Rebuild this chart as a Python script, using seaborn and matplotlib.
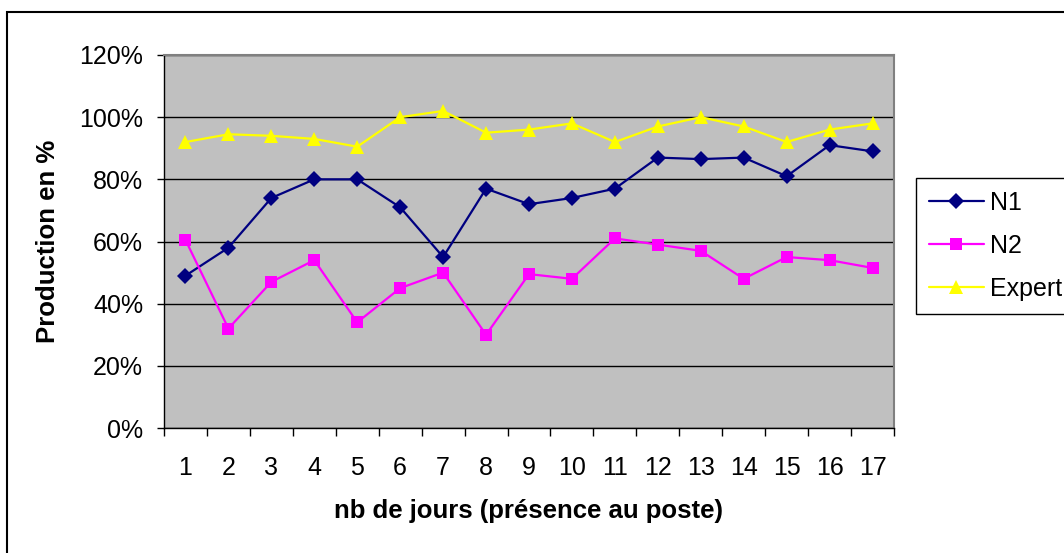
import pandas as pd
import numpy as np
import matplotlib
matplotlib.use("Agg")
import matplotlib.pyplot as plt
import seaborn as sns
from matplotlib.ticker import PercentFormatter, FixedLocator
from matplotlib.patches import Rectangle

# values (in %)
jours = list(range(1, 18))
n1 = [49, 58, 74, 80, 80, 71, 55, 77, 72, 74, 77, 87, 86.5, 87, 81, 91, 89]
n2 = [60.5, 32, 47, 54, 34, 45, 50, 30, 49.5, 48, 61, 59, 57, 48, 55, 54, 51.5]
expert = [92, 94.5, 94, 93, 90.5, 100, 102, 95, 96, 98, 92, 97, 100, 97, 92, 96, 98]
series = ["N1", "N2", "Expert"]

df = pd.DataFrame({
    "jour": jours * 3,
    "prod": n1 + n2 + expert,
    "serie": np.repeat(series, len(jours)),
})

sns.set_style("white")
plt.rcParams["font.family"] = ["Liberation Sans", "DejaVu Sans"]
plt.rcParams.update({"text.color": "black", "axes.labelcolor": "black",
                     "xtick.color": "black", "ytick.color": "black"})

fig = plt.figure(figsize=(10.64, 5.53), dpi=100)
ax = fig.add_axes([164 / 1064, 1 - 428 / 553, (894 - 164) / 1064, (428 - 55) / 553])

palette = {"N1": "#000080", "N2": "#FF00FF", "Expert": "#FFFF00"}
markers = {"N1": "D", "N2": "s", "Expert": "^"}
sns.lineplot(data=df, x="jour", y="prod", hue="serie", style="serie",
             palette=palette, markers=markers, dashes=False, legend=False,
             linewidth=1.6, markersize=9, markeredgewidth=0, ax=ax)
for line, s in zip(ax.lines, series):
    if s == "N1":
        line.set_markersize(8)
    elif s == "N2":
        line.set_markersize(9)
    else:
        line.set_markersize(10.5)

ax.set_facecolor("#C0C0C0")
ax.set_xlim(0.5, 17.5)
ax.set_ylim(0, 120)
ax.set_yticks(np.arange(0, 121, 20))
ax.yaxis.set_major_formatter(PercentFormatter(decimals=0))
ax.set_xticks(jours)
ax.xaxis.set_minor_locator(FixedLocator(np.arange(0.5, 18, 1)))
ax.grid(axis="y", color="black", linewidth=1)
ax.set_axisbelow(True)

ax.tick_params(axis="x", which="major", length=0, pad=20, labelsize=18)
ax.tick_params(axis="x", which="minor", length=6, width=1, color="black",
               direction="out", bottom=True)
ax.tick_params(axis="y", length=5, width=1, color="black", direction="out",
               pad=10, labelsize=18, left=True)

for side in ["left", "bottom"]:
    ax.spines[side].set_color("black")
    ax.spines[side].set_linewidth(1)
for side in ["top", "right"]:
    ax.spines[side].set_color("#808080")
    ax.spines[side].set_linewidth(1.5)

ax.set_xlabel("nb de jours (présence au poste)", fontsize=18.5, fontweight="bold",
              labelpad=14)
ax.set_ylabel("Production en %", fontsize=18.5, fontweight="bold", labelpad=14)

ax.legend(handles=ax.lines[:3], labels=series, loc="upper left",
          bbox_to_anchor=(916 / 1064, 1 - 178 / 553),
          bbox_transform=fig.transFigure, borderaxespad=0, fontsize=18,
          frameon=True, fancybox=False, framealpha=1, edgecolor="black",
          handlelength=2.2, handletextpad=0.28, labelspacing=0.77,
          borderpad=0.5)
ax.get_legend().get_frame().set_linewidth(1)

# outer chart border (cropped on right and bottom in the reference)
fig.add_artist(Rectangle((7 / 1064, -0.1), 1.2, 1 - 12 / 553 + 0.1,
                         transform=fig.transFigure, fill=False,
                         edgecolor="black", linewidth=1.5))

fig.savefig("out.png", dpi=100)
